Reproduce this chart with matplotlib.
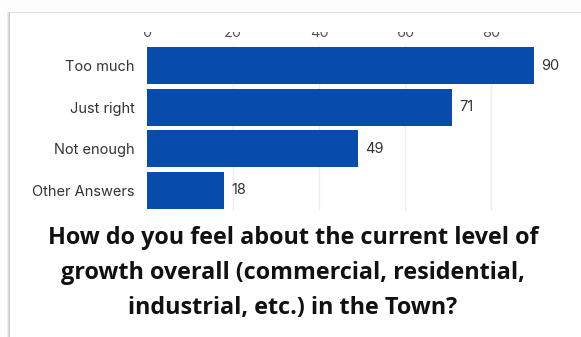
import matplotlib
matplotlib.use('Agg')
import matplotlib.pyplot as plt
from matplotlib.patches import Rectangle

# survey responses, top to bottom
CATEGORIES = ['Too much', 'Just right', 'Not enough', 'Other Answers']
COUNTS = [90, 71, 49, 18]
TICKS = [0, 20, 40, 60, 80]

TITLE = ('How do you feel about the current level of\n'
         'growth overall (commercial, residential,\n'
         'industrial, etc.) in the Town?')

BAR_COLOR = '#074cad'
W, H = 581, 337


def px(x, y):
    """pixel (from top-left) -> figure fraction"""
    return x / W, 1 - y / H


def main():
    fig = plt.figure(figsize=(W / 100, H / 100), dpi=100)
    fig.patch.set_facecolor('#fdfdfd')

    # card with soft shadow on the left/top
    for off, col in [(3, '#eeeeee'), (2, '#dddddd'), (1, '#c8c8c8')]:
        x0, y0 = px(10 - off, 13 - off * 0.4)
        fig.add_artist(Rectangle((x0, 0), 1, y0, transform=fig.transFigure,
                                 facecolor=col, edgecolor='none', zorder=-2))
    x0, y0 = px(10, 13)
    fig.add_artist(Rectangle((x0, 0), 1, y0, transform=fig.transFigure,
                             facecolor='white', edgecolor='none', zorder=-1))

    left, top = px(147, 45)
    right, bottom = px(577, 211)
    ax = fig.add_axes([left, bottom, right - left, top - bottom])
    ax.set_facecolor('none')

    ys = list(range(len(CATEGORIES)))
    ax.barh(ys, COUNTS, height=0.9, color=BAR_COLOR, zorder=3)
    for y, v in zip(ys, COUNTS):
        ax.annotate(str(v), (v, y), xytext=(5, 0), textcoords='offset points',
                    va='center', ha='left', fontsize=10.5, family='Inter',
                    color='#333333')

    ax.set_xlim(0, 100)
    ax.set_ylim(len(CATEGORIES) - 0.5, -0.5)
    ax.set_yticks(ys)
    ax.set_yticklabels(CATEGORIES, fontsize=10.5, family='Inter', color='#333333')
    ax.set_xticks(TICKS)
    ax.xaxis.tick_top()
    ax.tick_params(axis='x', length=0, pad=3.5, labelsize=10.5, labelcolor='#555555')
    ax.tick_params(axis='y', length=0, pad=9)
    for lab in ax.get_xticklabels():
        lab.set_family('Inter')
    ax.grid(axis='x', color='#eeeeee', linewidth=1, zorder=0)
    for s in ax.spines.values():
        s.set_visible(False)

    # the card's top edge cuts across the tick labels
    x1, y1 = px(11, 32)
    fig.add_artist(Rectangle((x1, y1), 1, y0 - y1, transform=fig.transFigure,
                             facecolor='white', edgecolor='none', zorder=5))

    tx, ty = px(293, 273)
    fig.text(tx, ty, TITLE, ha='center', va='center', fontsize=16.8,
             family='Open Sans', weight='bold', color='#111111',
             linespacing=1.62)

    fig.savefig('out.png', dpi=100)


if __name__ == '__main__':
    main()
